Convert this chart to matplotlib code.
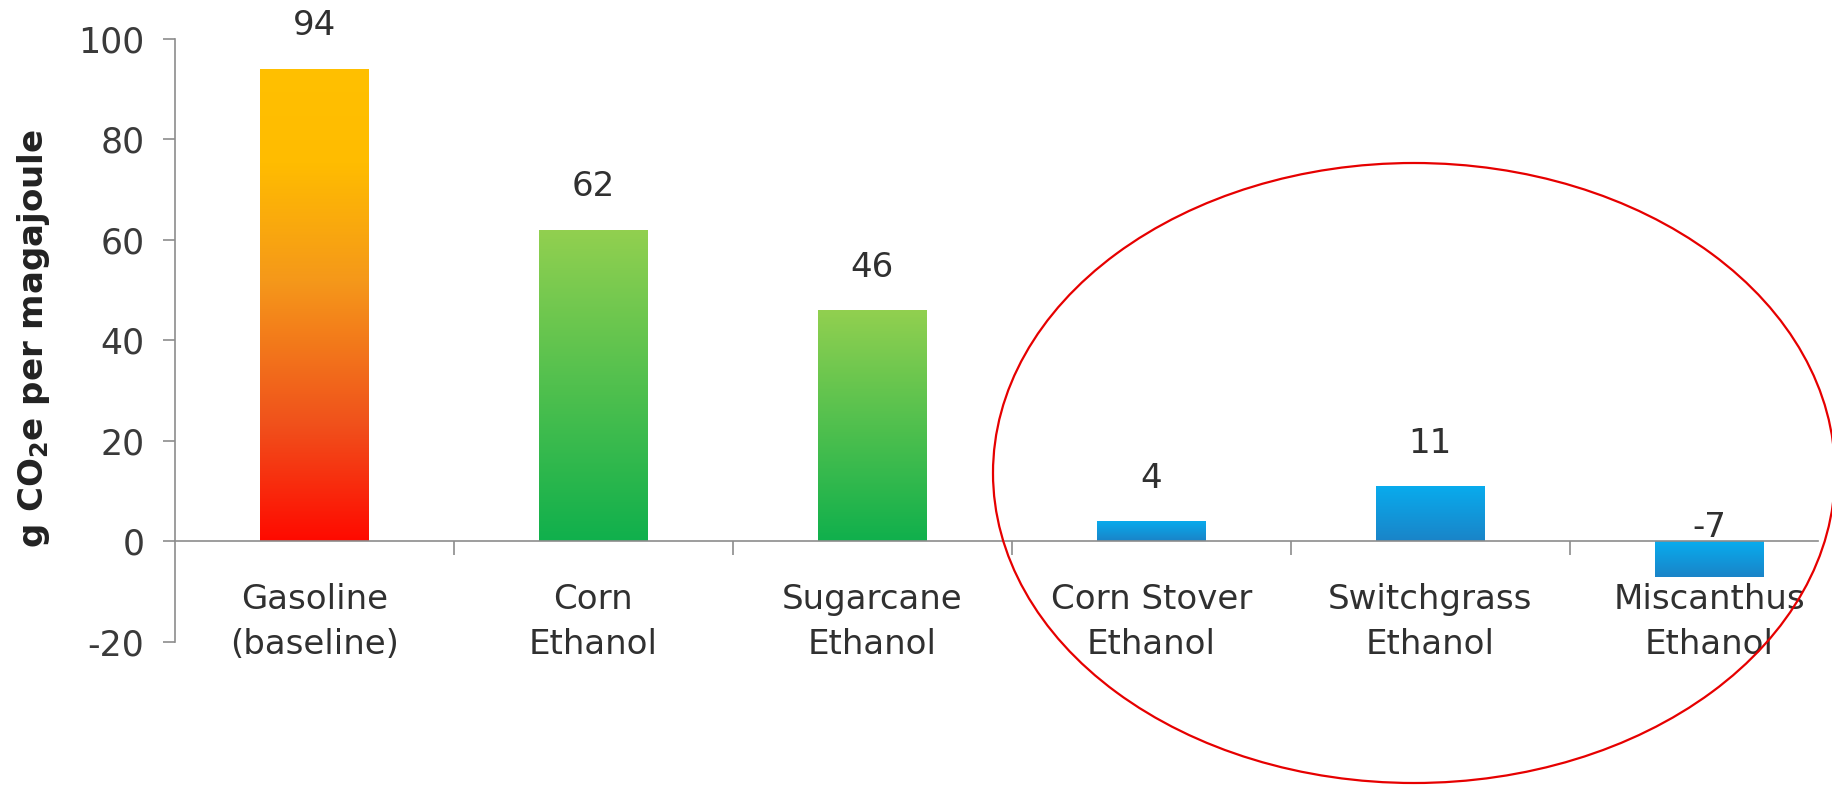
import matplotlib
matplotlib.use("Agg")
import matplotlib.pyplot as plt
import numpy as np
from matplotlib.colors import LinearSegmentedColormap
from matplotlib.patches import Ellipse

categories = ["Gasoline\n(baseline)", "Corn\nEthanol", "Sugarcane\nEthanol",
              "Corn Stover\nEthanol", "Switchgrass\nEthanol", "Miscanthus\nEthanol"]
values = [94, 62, 46, 4, 11, -7]
value_labels = ["94", "62", "46", "4", "11", "-7"]
yticks = [-20, 0, 20, 40, 60, 80, 100]
groups = ["gasoline", "green", "green", "blue", "blue", "blue"]

cmaps = {
    "gasoline": LinearSegmentedColormap.from_list(
        "g", [(0, "#FF0A00"), (0.25, "#F0521C"), (0.55, "#F5981A"), (0.8, "#FFBC00"), (1, "#FFC000")]),
    "green": LinearSegmentedColormap.from_list("gr", ["#10B04C", "#92D050"]),
    "blue": LinearSegmentedColormap.from_list("b", ["#1A84C8", "#08ACEE"]),
}

W, H = 1833, 791
fig = plt.figure(figsize=(W / 100, H / 100), dpi=100)
ax = fig.add_axes([175 / W, 1 - 642 / H, 1643 / W, (642 - 38.6) / H])

x = np.arange(len(values))
bars = ax.bar(x, values, width=0.39, color="none", edgecolor="none", zorder=2)
grad = np.linspace(0, 1, 256).reshape(-1, 1)
for b, g in zip(bars, groups):
    x0, y0 = b.get_x(), b.get_y()
    x1, y1 = x0 + b.get_width(), y0 + b.get_height()
    lo, hi = min(y0, y1), max(y0, y1)
    im = ax.imshow(grad, extent=[x0, x1, lo, hi], origin="lower", aspect="auto",
                   cmap=cmaps[g], zorder=2, interpolation="bilinear")
    im.set_clip_path(b)

for xi, v, lab in zip(x, values, value_labels):
    if v >= 0:
        ax.annotate(lab, xy=(xi, v), xytext=(0, 31), textcoords="offset points",
                    ha="center", va="center", fontsize=24.5, color="#303030")
    else:
        ax.annotate(lab, xy=(xi, 0), xytext=(0, 10), textcoords="offset points",
                    ha="center", va="center", fontsize=24.5, color="#303030")

# category labels below the zero line
for xi, cat in zip(x, categories):
    ax.annotate(cat, xy=(xi, 0), xytext=(0, -30), textcoords="offset points",
                ha="center", va="top", fontsize=24.5, color="#303030",
                linespacing=1.45, annotation_clip=False)

ax.set_xlim(-0.5, 5.39)
ax.set_ylim(-20, 100)

ax.tick_params(axis="y", direction="out", length=9, width=1.2, color="#8C8C8C", pad=13,
               labelsize=25, labelcolor="#3A3A3A")
ax.set_yticks(yticks)
ax.set_yticklabels([str(t) for t in yticks])

ax.set_xticks(np.arange(0.5, 5, 1))
ax.set_xticklabels([])
ax.tick_params(axis="x", direction="out", length=10, width=1.2, color="#8C8C8C")

for s in ["top", "right"]:
    ax.spines[s].set_visible(False)
ax.spines["bottom"].set_position(("data", 0))
ax.spines["bottom"].set_color("#8C8C8C")
ax.spines["left"].set_color("#8C8C8C")
ax.spines["bottom"].set_linewidth(1.2)
ax.spines["left"].set_linewidth(1.2)

fig.text(34 / W, 1 - 339 / H, r"g CO$_\mathbf{2}$e per magajoule", rotation=90,
         ha="center", va="center", fontsize=24.5, fontweight="bold", color="#222222")

ell = Ellipse((1414 / W, 1 - 473 / H), 2 * 421 / W, 2 * 310 / H, transform=fig.transFigure,
              fill=False, edgecolor="#E60000", linewidth=1.6)
fig.patches.append(ell)

fig.savefig("out.png", dpi=100, facecolor="white")
